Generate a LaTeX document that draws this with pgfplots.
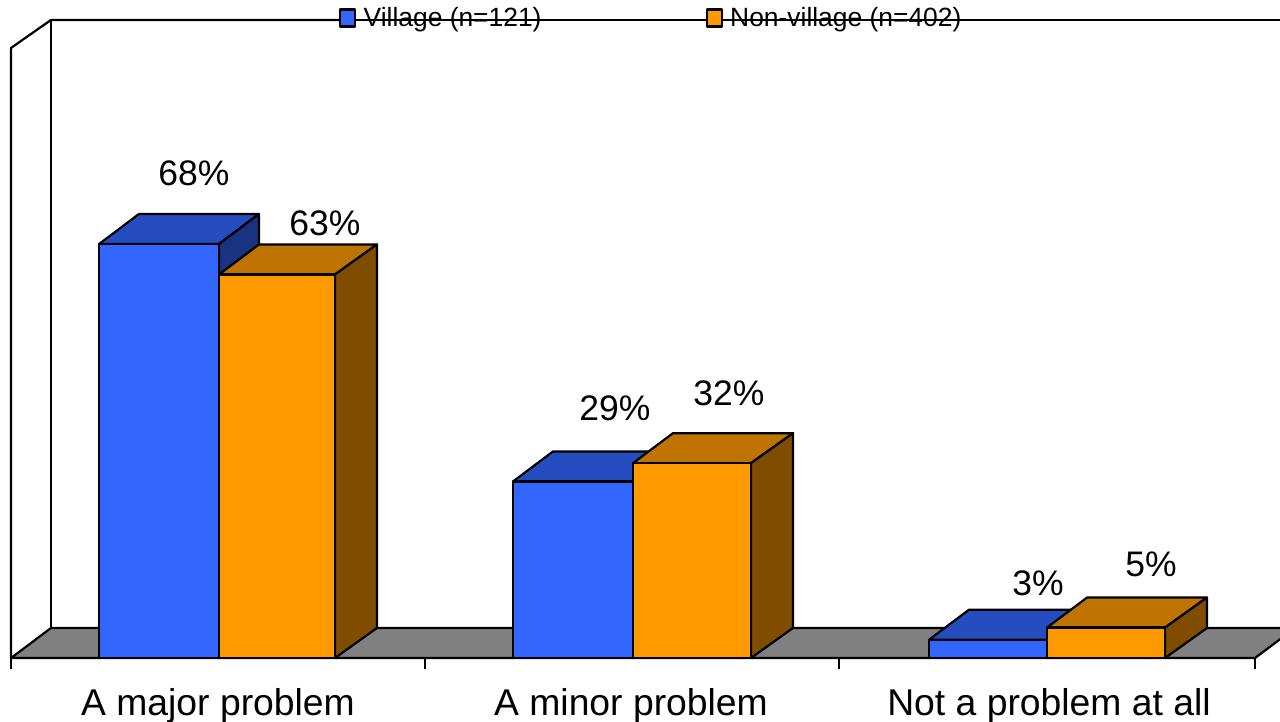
\documentclass[border=0pt]{standalone}
\usepackage{fontspec}
\setmainfont{Liberation Sans}
\usepackage{pgfplots}
\pgfplotsset{compat=1.18}
\definecolor{vfront}{HTML}{3366FF}
\definecolor{vtop}{HTML}{264DBF}
\definecolor{vside}{HTML}{1A3380}
\definecolor{nfront}{HTML}{FF9900}
\definecolor{ntop}{HTML}{BF7300}
\definecolor{nside}{HTML}{804D00}
\definecolor{floorgray}{HTML}{808080}
\begin{document}
\begin{tikzpicture}
\begin{axis}[
  scale only axis, width=1280pt, height=722pt,
  xmin=0, xmax=1280, ymin=-10.51, ymax=108.08,
  axis line style={draw=none},
  xtick=\empty, ytick=\empty,
  every axis plot/.append style={line width=2.2pt, draw=black, line join=round},
  legend cell align=left,
  legend style={at={(axis cs:339,105.13)}, anchor=west, draw=none, fill=none, inner sep=0pt, outer sep=0pt,
    font=\fontsize{26.4}{28}\selectfont, legend columns=2,
    /tikz/every even column/.append style={column sep=162pt},
    /tikz/every odd column/.append style={column sep=0pt}},
  legend image code/.code={\draw[#1, draw=black, line width=2.2pt] (0pt,-8.5pt) rectangle (15pt,8.5pt);},
]
% walls (the top edge stops at the two legend keys)
\addplot[forget plot, no markers] coordinates {(11,0) (11,100.2) (51,104.8) (340,104.8)};
\addplot[forget plot, no markers] coordinates {(354,104.8) (706,104.8)};
\addplot[forget plot, no markers] coordinates {(720,104.8) (1300,104.8)};
\addplot[forget plot, no markers] coordinates {(51,104.8) (51,4.93)};
% floor
\addplot[forget plot, no markers, fill=floorgray] coordinates {(11,0) (51,4.93) (1295,4.93) (1255,0)} --cycle;
% Village tops and sides
\addplot[forget plot, fill=vtop] coordinates {(99,68) (139,72.93) (259,72.93) (219,68)} --cycle;
\addplot[forget plot, fill=vside] coordinates {(219,0) (259,4.93) (259,72.93) (219,68)} --cycle;
\addplot[forget plot, fill=vtop] coordinates {(513,29) (553,33.93) (673,33.93) (633,29)} --cycle;
\addplot[forget plot, fill=vside] coordinates {(633,0) (673,4.93) (673,33.93) (633,29)} --cycle;
\addplot[forget plot, fill=vtop] coordinates {(929,3) (969,7.93) (1087,7.93) (1047,3)} --cycle;
\addplot[forget plot, fill=vside] coordinates {(1047,0) (1087,4.93) (1087,7.93) (1047,3)} --cycle;
% Village fronts
\addplot[ybar interval, fill=vfront] coordinates {(99,68) (219,0) (513,29) (633,0) (929,3) (1047,0)};
\addlegendentry{\hspace{5.5pt}Village (n=121)}
% Non-village tops and sides
\addplot[forget plot, fill=ntop] coordinates {(219,63) (259,67.93) (377,67.93) (335,63)} --cycle;
\addplot[forget plot, fill=nside] coordinates {(335,0) (377,4.93) (377,67.93) (335,63)} --cycle;
\addplot[forget plot, fill=ntop] coordinates {(633,32) (673,36.93) (793,36.93) (751,32)} --cycle;
\addplot[forget plot, fill=nside] coordinates {(751,0) (793,4.93) (793,36.93) (751,32)} --cycle;
\addplot[forget plot, fill=ntop] coordinates {(1047,5) (1087,9.93) (1207,9.93) (1165,5)} --cycle;
\addplot[forget plot, fill=nside] coordinates {(1165,0) (1207,4.93) (1207,9.93) (1165,5)} --cycle;
% Non-village fronts
\addplot[ybar interval, fill=nfront] coordinates {(219,63) (335,0) (633,32) (751,0) (1047,5) (1165,0)};
\addlegendentry{\hspace{5.5pt}Non-village (n=402)}
% baseline and category separators
\addplot[forget plot, no markers] coordinates {(11,0) (1255,0)};
\addplot[forget plot, no markers] coordinates {(11,0) (11,-1.75)};
\addplot[forget plot, no markers] coordinates {(425,0) (425,-1.75)};
\addplot[forget plot, no markers] coordinates {(839,0) (839,-1.75)};
\addplot[forget plot, no markers] coordinates {(1255,0) (1255,-1.75)};
% data labels
\node[font=\fontsize{35.5}{40}\selectfont] at (axis cs:194,79.66) {68\%};
\node[font=\fontsize{35.5}{40}\selectfont] at (axis cs:325,71.45) {63\%};
\node[font=\fontsize{35.5}{40}\selectfont] at (axis cs:615,41.06) {29\%};
\node[font=\fontsize{35.5}{40}\selectfont] at (axis cs:729,43.53) {32\%};
\node[font=\fontsize{35.5}{40}\selectfont] at (axis cs:1038,12.32) {3\%};
\node[font=\fontsize{35.5}{40}\selectfont] at (axis cs:1151,15.44) {5\%};
% category labels
\node[font=\fontsize{37.3}{40}\selectfont, anchor=base] at (axis cs:218,-9.45) {A major problem};
\node[font=\fontsize{37.3}{40}\selectfont, anchor=base] at (axis cs:631,-9.45) {A minor problem};
\node[font=\fontsize{37.3}{40}\selectfont, anchor=base] at (axis cs:1049,-9.45) {Not a problem at all};
\end{axis}
\end{tikzpicture}
\end{document}
